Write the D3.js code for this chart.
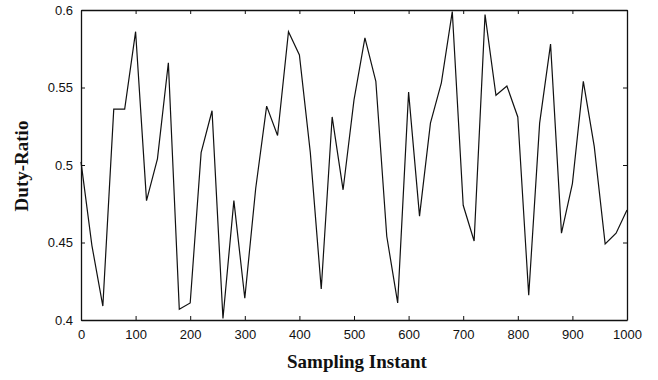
<!DOCTYPE html>
<html>
<head>
<meta charset="utf-8">
<script src="https://cdn.jsdelivr.net/npm/d3@7"></script>
<style>
  body { margin: 0; background: #fff; }
  .tick text { font-family: "Liberation Sans", Arial, sans-serif; font-size: 13px; fill: #111; }
  .title { font-family: "Liberation Serif", "Times New Roman", serif; font-weight: bold; font-size: 19px; fill: #111; }
</style>
</head>
<body>
<svg id="chart"></svg>
<script>
// sampling instants and measured duty ratio
const instants = d3.range(0, 1001, 20);
const dutyRatio = [
  0.502, 0.448, 0.409, 0.536, 0.536, 0.586, 0.477, 0.504, 0.566, 0.407,
  0.411, 0.508, 0.535, 0.401, 0.477, 0.414, 0.485, 0.538, 0.519, 0.586,
  0.571, 0.508, 0.420, 0.531, 0.484, 0.542, 0.582, 0.554, 0.454, 0.411,
  0.547, 0.467, 0.527, 0.553, 0.599, 0.474, 0.451, 0.597, 0.545, 0.551,
  0.531, 0.416, 0.527, 0.578, 0.456, 0.488, 0.554, 0.512, 0.449, 0.456,
  0.471
];
const xTicks = [0, 100, 200, 300, 400, 500, 600, 700, 800, 900, 1000];
const yTicks = [0.4, 0.45, 0.5, 0.55, 0.6];

const width = 658, height = 380;
const margin = { top: 10, right: 31, bottom: 60, left: 81 };

const svg = d3.select("#chart")
  .attr("width", width)
  .attr("height", height);

const x = d3.scaleLinear().domain([0, 1000]).range([margin.left, width - margin.right]);
const y = d3.scaleLinear().domain([0.4, 0.6]).range([height - margin.bottom, margin.top]);

const fmt = d => String(d);

// axes with inward ticks on all four sides
svg.append("g")
  .attr("transform", `translate(0,${y(0.4)})`)
  .call(d3.axisBottom(x).tickValues(xTicks).tickFormat(fmt).tickSizeInner(-4).tickSizeOuter(0).tickPadding(10));
svg.append("g")
  .attr("transform", `translate(0,${y(0.6)})`)
  .call(d3.axisTop(x).tickValues(xTicks).tickFormat("").tickSizeInner(-4).tickSizeOuter(0));
svg.append("g")
  .attr("transform", `translate(${x(0)},0)`)
  .call(d3.axisLeft(y).tickValues(yTicks).tickFormat(fmt).tickSizeInner(-4).tickSizeOuter(0).tickPadding(8));
svg.append("g")
  .attr("transform", `translate(${x(1000)},0)`)
  .call(d3.axisRight(y).tickValues(yTicks).tickFormat("").tickSizeInner(-4).tickSizeOuter(0));

svg.selectAll(".domain").attr("stroke", "#111").attr("stroke-width", 1.3);
svg.selectAll(".tick line").attr("stroke", "#111").attr("stroke-width", 1);

// data line
const line = d3.line()
  .x((d, i) => x(instants[i]))
  .y(d => y(d));

svg.append("path")
  .datum(dutyRatio)
  .attr("fill", "none")
  .attr("stroke", "#111")
  .attr("stroke-width", 1.2)
  .attr("stroke-linejoin", "miter")
  .attr("d", line);

// titles
svg.append("text")
  .attr("class", "title")
  .attr("x", 357)
  .attr("y", 368)
  .attr("text-anchor", "middle")
  .text("Sampling Instant");

svg.append("text")
  .attr("class", "title")
  .attr("transform", "translate(28,166) rotate(-90)")
  .attr("text-anchor", "middle")
  .text("Duty-Ratio");
</script>
</body>
</html>
